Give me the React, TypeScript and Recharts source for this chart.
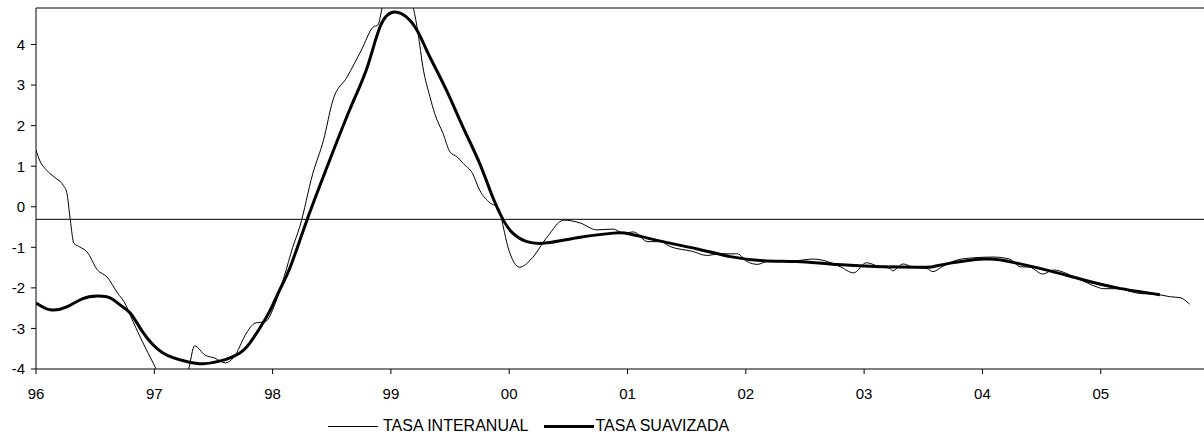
import { LineChart, Line, XAxis, YAxis, ReferenceLine } from "recharts";

// x values are years since Jan 1996 (0 = "96", 9 = "05")
const yearLabels = ["96", "97", "98", "99", "00", "01", "02", "03", "04", "05"];
const yearTicks = [0, 1, 2, 3, 4, 5, 6, 7, 8, 9];
const yTicks = [-4, -3, -2, -1, 0, 1, 2, 3, 4];
const meanLevel = -0.31;

const interanualT = [
  0.0, 0.03, 0.09, 0.16, 0.23, 0.26, 0.29, 0.32, 0.37, 0.43, 0.52, 0.6, 0.69,
  0.75, 0.82, 0.9, 0.99, 1.05, 1.13, 1.22, 1.29, 1.34, 1.43, 1.51, 1.6, 1.67,
  1.78, 1.85, 1.94, 2.02, 2.1, 2.17, 2.23, 2.34, 2.43, 2.51, 2.63, 2.75, 2.85,
  2.89, 2.93, 2.99, 3.06, 3.13, 3.19, 3.23, 3.27, 3.33, 3.37, 3.44, 3.5, 3.56,
  3.61, 3.69, 3.75, 3.84, 3.91, 3.95, 3.99, 4.09, 4.18, 4.32, 4.46, 4.6, 4.74,
  4.88, 4.96, 5.05, 5.17, 5.28, 5.36, 5.55, 5.67, 5.78, 5.93, 6.01, 6.1, 6.18,
  6.29, 6.43, 6.57, 6.69, 6.8, 6.91, 7.02, 7.13, 7.22, 7.24, 7.33, 7.41, 7.53,
  7.58, 7.67, 7.79, 7.92, 8.09, 8.23, 8.32, 8.4, 8.51, 8.6, 8.8, 8.97, 9.02,
  9.14, 9.31, 9.5, 9.59, 9.67, 9.75,
];
const interanualV = [
  1.4, 1.15, 0.9, 0.72, 0.53, 0.35, -0.33, -0.9, -0.99, -1.11, -1.56, -1.73,
  -2.13, -2.37, -2.83, -3.33, -3.85, -4.2, -4.5, -4.4, -4.0, -3.43, -3.66,
  -3.73, -3.85, -3.72, -3.11, -2.87, -2.83, -2.4, -1.7, -1.0, -0.49, 0.82,
  1.64, 2.63, 3.2, 3.86, 4.43, 4.48, 4.95, 5.4, 5.6, 5.4, 4.9, 4.27, 3.45,
  2.71, 2.3, 1.81, 1.35, 1.23, 1.07, 0.82, 0.41, 0.09, -0.03, -0.5, -1.0,
  -1.49, -1.31, -0.75, -0.33, -0.4, -0.57, -0.55, -0.65, -0.62, -0.86, -0.86,
  -0.98, -1.1, -1.2, -1.16, -1.16, -1.35, -1.42, -1.35, -1.35, -1.33, -1.29,
  -1.35, -1.48, -1.63, -1.38, -1.48, -1.52, -1.58, -1.41, -1.49, -1.52, -1.6,
  -1.46, -1.31, -1.26, -1.24, -1.29, -1.48, -1.49, -1.66, -1.56, -1.76, -1.98,
  -2.02, -2.02, -2.13, -2.17, -2.22, -2.24, -2.4,
];

const suavizadaT = [
  0.0, 0.12, 0.26, 0.39, 0.52, 0.63, 0.71, 0.8, 0.9, 1.07, 1.28, 1.41, 1.56,
  1.72, 1.81, 1.89, 1.98, 2.06, 2.15, 2.29, 2.46, 2.65, 2.8, 2.91, 3.03, 3.16,
  3.25, 3.33, 3.47, 3.61, 3.75, 3.86, 3.95, 4.03, 4.15, 4.32, 4.6, 4.88, 5.02,
  5.3, 5.59, 5.87, 6.15, 6.43, 6.71, 6.99, 7.16, 7.45, 7.58, 7.73, 8.01, 8.15,
  8.29, 8.57, 8.85, 9.14, 9.5,
];
const suavizadaV = [
  -2.37, -2.54, -2.47, -2.27, -2.2, -2.25, -2.42, -2.63, -3.08, -3.6, -3.82,
  -3.87, -3.8, -3.61, -3.35, -3.0, -2.55, -2.05, -1.48, -0.33, 0.98, 2.38,
  3.44, 4.45, 4.8, 4.6, 4.19, 3.69, 2.87, 1.96, 1.07, 0.24, -0.33, -0.65,
  -0.86, -0.89, -0.75, -0.65, -0.67, -0.86, -1.04, -1.23, -1.33, -1.35, -1.41,
  -1.46, -1.48, -1.49, -1.48, -1.39, -1.29, -1.31, -1.39, -1.58, -1.8, -2.0,
  -2.17,
];

const interanual = interanualT.map((t, i) => ({ t, v: interanualV[i] }));
const suavizada = suavizadaT.map((t, i) => ({ t, v: suavizadaV[i] }));

const FONT = "Arial, 'Liberation Sans', sans-serif";

export default function App() {
  return (
    <div
      style={{
        position: "absolute",
        left: 0,
        top: 0,
        width: 1204,
        height: 438,
        background: "#fff",
        fontFamily: FONT,
      }}
    >
      <LineChart
        width={1204}
        height={438}
        margin={{ top: 8, right: 0, left: 0, bottom: 39 }}
      >
        <XAxis
          dataKey="t"
          type="number"
          domain={[0, 9.873]}
          ticks={yearTicks}
          tickFormatter={(v: number) => yearLabels[Math.round(v)] ?? ""}
          allowDataOverflow
          height={30}
          tickSize={5}
          tickMargin={14}
          stroke="#000"
          tick={{ fill: "#000", fontSize: 15, fontFamily: FONT }}
        />
        <YAxis
          type="number"
          domain={[-4, 4.9]}
          ticks={yTicks}
          allowDataOverflow
          width={36}
          tickSize={5}
          tickMargin={6}
          stroke="#000"
          tick={{ fill: "#000", fontSize: 15, fontFamily: FONT }}
        />
        {/* top frame + mean level */}
        <ReferenceLine y={4.9} stroke="#000" strokeWidth={1} />
        <ReferenceLine y={meanLevel} stroke="#000" strokeWidth={1} />
        <Line
          data={interanual}
          dataKey="v"
          type="monotone"
          stroke="#000"
          strokeWidth={1}
          dot={false}
          activeDot={false}
          isAnimationActive={false}
        />
        <Line
          data={suavizada}
          dataKey="v"
          type="natural"
          stroke="#000"
          strokeWidth={3}
          dot={false}
          activeDot={false}
          isAnimationActive={false}
        />
      </LineChart>

      {/* legend */}
      <div
        style={{
          position: "absolute",
          left: 328,
          top: 416,
          height: 20,
          display: "flex",
          alignItems: "center",
          fontSize: 16,
          color: "#000",
          whiteSpace: "nowrap",
        }}
      >
        <span style={{ display: "inline-block", width: 50, height: 1, background: "#000" }} />
        <span style={{ marginLeft: 5 }}>TASA INTERANUAL</span>
        <span
          style={{ display: "inline-block", width: 50, height: 3, background: "#000", marginLeft: 15 }}
        />
        <span style={{ marginLeft: 2 }}>TASA SUAVIZADA</span>
      </div>
    </div>
  );
}
